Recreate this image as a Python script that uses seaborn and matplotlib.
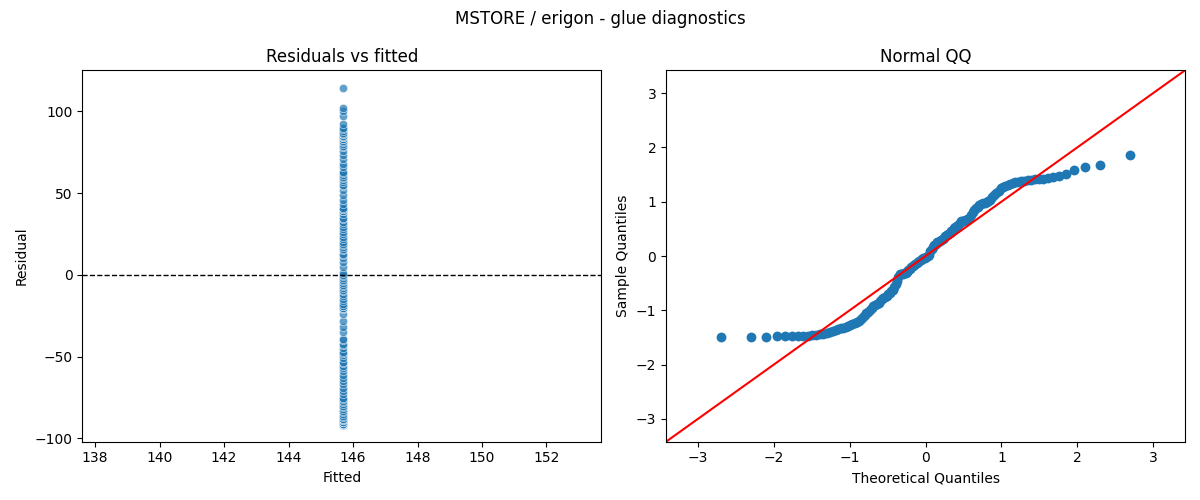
"""
Residual diagnostics for the MSTORE / erigon glue model.
"""

from statistics import NormalDist

import numpy as np
import matplotlib
matplotlib.use("Agg")
import matplotlib.pyplot as plt
import seaborn as sns

# Residuals (the model fits one constant value)
fitted_value = 145.7
residuals = [
    -92, -92, -92, -91, -91, -91, -90, -90, -90, -89, -89, -88, -88, -87,
    -86, -85, -84, -83, -82, -81, -80, -79, -78, -77, -76, -75, -73, -71,
    -69, -67, -65, -63, -61,
    -59, -57, -56, -54, -53, -51, -49, -48, -47, -45, -43, -42, -40, -39,
    -35, -32, -28, -24, -21, -20, -20, -19, -19, -18, -16, -15, -13, -12, -10,
    -9, -8, -7, -6, -5, -4, -3, -2, -1, 0, 1, 5, 8, 10, 12, 13, 15, 16, 17,
    18, 19, 20, 22, 23, 25, 26, 28, 29, 31, 32, 34, 35, 37, 39, 39, 40, 40,
    41, 43, 46, 49, 52, 54, 55, 57, 58, 59, 60, 61, 62, 63, 66, 68, 71, 73,
    76, 78, 79, 80, 81, 82, 83, 83, 84, 84, 85, 85, 86, 86, 87, 88, 89, 90,
    92, 97, 100, 102, 114,
]

title = "MSTORE / erigon - glue diagnostics"

res = np.array(residuals, dtype=float)
fitted = np.full(len(res), fitted_value)

# QQ data: standardized sorted residuals against normal quantiles
n = len(res)
sample_q = np.sort((res - res.mean()) / res.std(ddof=1))
theo_q = np.array([NormalDist().inv_cdf((i + 0.5) / n) for i in range(n)])

fig, (ax1, ax2) = plt.subplots(1, 2, figsize=(12, 5))

# Residuals vs fitted
sns.scatterplot(x=fitted, y=res, ax=ax1, alpha=0.7)
ax1.axhline(0, color="black", linestyle="--", linewidth=1)
ax1.set_xlim(137.6, 153.7)
ax1.set_ylim(-102, 125)
ax1.set_xlabel("Fitted")
ax1.set_ylabel("Residual")
ax1.set_title("Residuals vs fitted")

# Normal QQ
sns.scatterplot(x=theo_q, y=sample_q, ax=ax2, s=50, linewidth=0, color="#1f77b4")
ax2.set_xlim(-3.42, 3.42)
ax2.set_ylim(-3.42, 3.42)
ax2.plot([-3.42, 3.42], [-3.42, 3.42], color="red")
ax2.set_xlabel("Theoretical Quantiles")
ax2.set_ylabel("Sample Quantiles")
ax2.set_title("Normal QQ")

fig.suptitle(title)
plt.tight_layout()
plt.savefig("out.png", dpi=100)
